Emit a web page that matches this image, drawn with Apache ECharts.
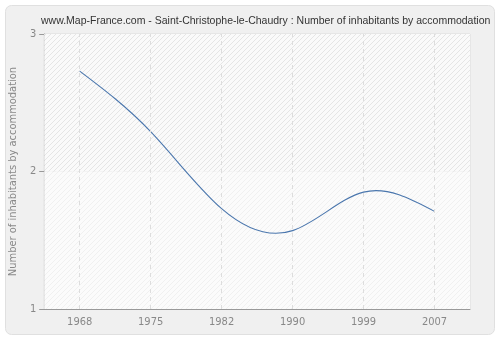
<!DOCTYPE html>
<html><head><meta charset="utf-8">
<script src="https://cdn.jsdelivr.net/npm/echarts@6/dist/echarts.min.js"></script>
<style>html,body{margin:0;padding:0;background:#fff}#c{width:500px;height:340px}</style>
</head><body><div id="c"></div>
<script>
var years = ['1968','1975','1982','1990','1999','2007'];
var values = [2.73, 2.29, 1.73, 1.57, 1.85, 1.71];
var yTicks = [1, 2, 3];
var titleText = 'www.Map-France.com - Saint-Christophe-le-Chaudry : Number of inhabitants by accommodation';
var yName = 'Number of inhabitants by accommodation';
var FONT = "'DejaVu Sans Condensed', 'Liberation Sans', sans-serif";
var TFONT = "'Liberation Sans', sans-serif";

function hatch(bg, fg) {
  var c = document.createElement('canvas');
  c.width = 5; c.height = 5;
  var g = c.getContext('2d');
  g.fillStyle = bg; g.fillRect(0, 0, 5, 5);
  g.strokeStyle = fg; g.lineWidth = 1;
  g.beginPath();
  g.moveTo(-1, 6); g.lineTo(6, -1);
  g.moveTo(-1, 1); g.lineTo(1, -1);
  g.moveTo(4, 6); g.lineTo(6, 4);
  g.stroke();
  return {image: c, repeat: 'repeat'};
}

// natural cubic spline through pixel points, returned as bezier path
function splinePath(pts) {
  var n = pts.length - 1, h = pts[1][0] - pts[0][0];
  var M = new Array(n + 1).fill(0);
  if (n >= 2) {
    var a = [], b = [], c = [], d = [];
    for (var i = 1; i < n; i++) {
      a.push(1); b.push(4); c.push(1);
      d.push(6 / (h * h) * (pts[i + 1][1] - 2 * pts[i][1] + pts[i - 1][1]));
    }
    var m = d.length;
    for (var k = 1; k < m; k++) {
      var w = a[k] / b[k - 1];
      b[k] -= w * c[k - 1];
      d[k] -= w * d[k - 1];
    }
    var sol = new Array(m);
    sol[m - 1] = d[m - 1] / b[m - 1];
    for (var k2 = m - 2; k2 >= 0; k2--) sol[k2] = (d[k2] - c[k2] * sol[k2 + 1]) / b[k2];
    for (var j = 0; j < m; j++) M[j + 1] = sol[j];
  }
  var slope = [];
  for (var i2 = 0; i2 < n; i2++) {
    slope.push((pts[i2 + 1][1] - pts[i2][1]) / h - h * (2 * M[i2] + M[i2 + 1]) / 6);
  }
  slope.push((pts[n][1] - pts[n - 1][1]) / h + h * (M[n - 1] + 2 * M[n]) / 6);
  var path = 'M' + pts[0][0] + ' ' + pts[0][1];
  for (var s = 0; s < n; s++) {
    var x0 = pts[s][0], y0 = pts[s][1], x1 = pts[s + 1][0], y1 = pts[s + 1][1];
    var dx = (x1 - x0) / 3;
    path += ' C' + (x0 + dx) + ' ' + (y0 + slope[s] * dx) + ' ' + (x1 - dx) + ' ' + (y1 - slope[s + 1] * dx) + ' ' + x1 + ' ' + y1;
  }
  return path;
}

var chart = echarts.init(document.getElementById('c'), null, {renderer: 'canvas'});
chart.setOption({
  backgroundColor: '#fff',
  animation: false,
  graphic: [{
    type: 'rect', z: -10, silent: true,
    shape: {x: 5.5, y: 5.5, width: 489, height: 329, r: 6},
    style: {fill: '#f0f0f0', stroke: '#e0e0e0', lineWidth: 1}
  }],
  title: {
    text: titleText, left: 36, top: 11,
    textStyle: {fontFamily: TFONT, fontSize: 10.5, fontWeight: 'normal', color: '#333'}
  },
  grid: {left: 40, right: 30, top: 34, bottom: 31, show: true, borderColor: '#dcdcdc', borderWidth: 1, backgroundColor: 'transparent'},
  xAxis: {
    type: 'category', data: years, boundaryGap: true,
    axisLine: {lineStyle: {color: '#999'}},
    axisTick: {alignWithLabel: true, length: 5, lineStyle: {color: '#999'}},
    axisLabel: {color: '#888', fontFamily: FONT, fontSize: 11, margin: 8},
    splitLine: {show: false}
  },
  yAxis: {
    type: 'value', min: yTicks[0], max: yTicks[yTicks.length - 1], interval: 1,
    name: yName, nameLocation: 'middle', nameGap: 24,
    nameTextStyle: {color: '#888', fontFamily: FONT, fontSize: 11},
    axisLine: {show: true, lineStyle: {color: '#999'}},
    axisTick: {show: true, length: 5, lineStyle: {color: '#999'}},
    axisLabel: {color: '#888', fontFamily: FONT, fontSize: 11, margin: 8},
    splitLine: {show: true, lineStyle: {color: '#dddddd', type: [4, 4]}}
  },
  series: [{
    type: 'custom',
    data: values.map(function (v, i) { return [i, v]; }),
    renderItem: function (params, api) {
      if (params.dataIndex !== 0) return null;
      var pts = values.map(function (v, i) { return api.coord([i, v]); });
      return {
        type: 'path',
        shape: {pathData: splinePath(pts)},
        style: {fill: 'none', stroke: '#4a76ad', lineWidth: 1.1}
      };
    },
    markArea: {
      silent: true,
      data: [
        [{yAxis: 2, itemStyle: {color: hatch('#fafafa', '#e5e5e5')}}, {yAxis: 3}],
        [{yAxis: 1, itemStyle: {color: hatch('#fbfbfb', '#f0f0f0')}}, {yAxis: 2}]
      ]
    },
    markLine: {
      silent: true, symbol: 'none', label: {show: false},
      lineStyle: {color: '#dddddd', type: [4, 4], width: 1},
      data: years.map(function (y) { return {xAxis: y}; })
    }
  }]
});
</script></body></html>
